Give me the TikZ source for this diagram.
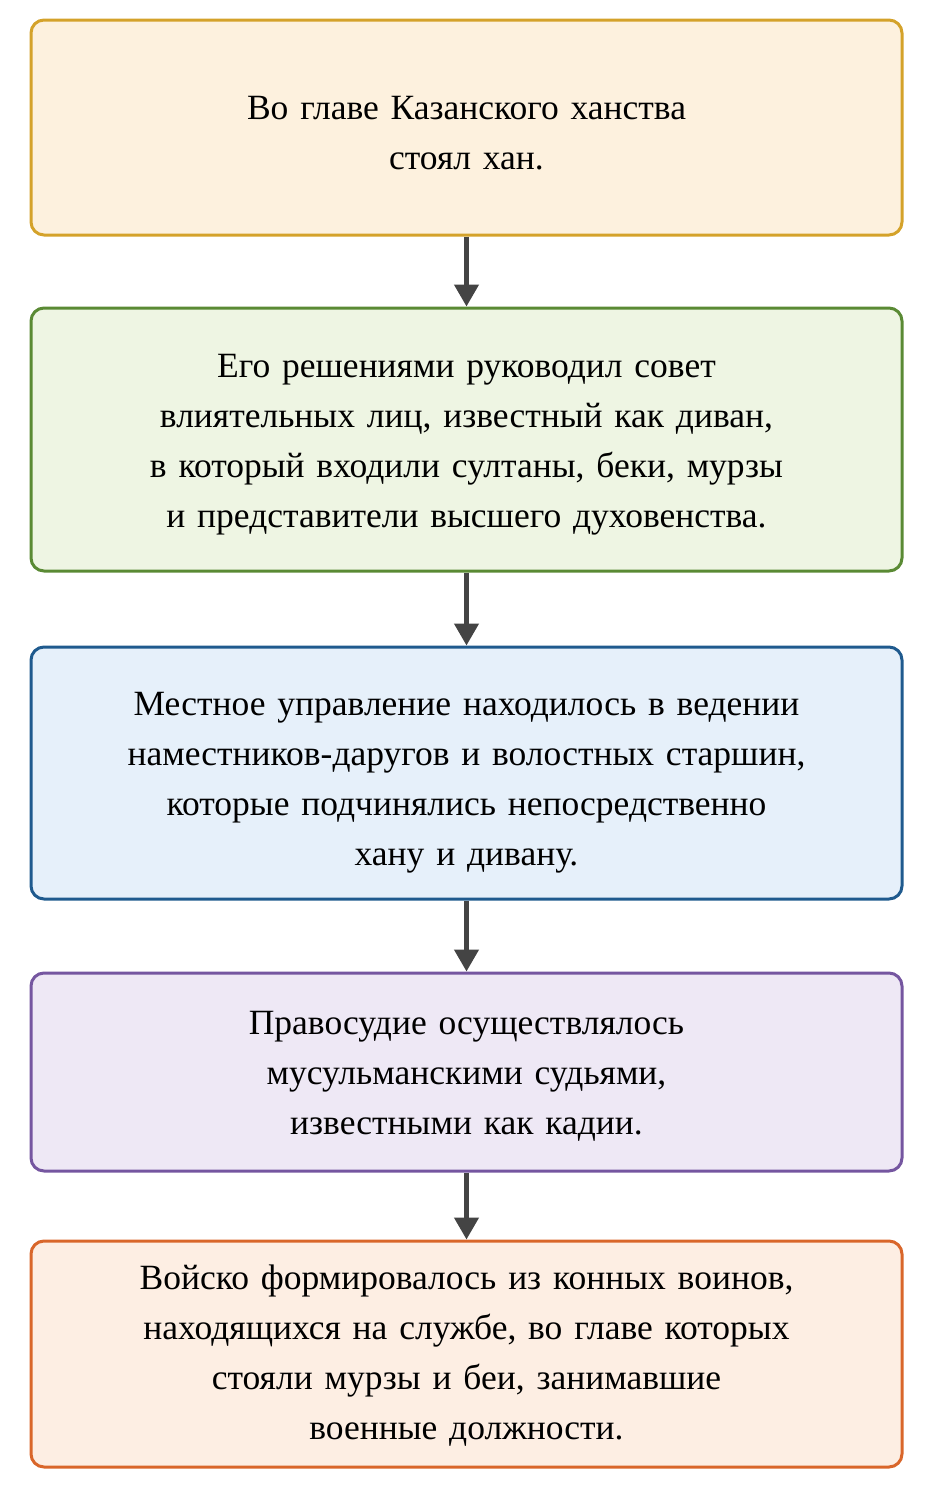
\documentclass[tikz,border=0pt]{standalone}
\usepackage{fontspec}
\setmainfont{Liberation Serif}
\usetikzlibrary{arrows.meta}
\definecolor{f1}{HTML}{FDF1DE}\definecolor{d1}{HTML}{D4A22A}
\definecolor{f2}{HTML}{EEF5E3}\definecolor{d2}{HTML}{5A8A34}
\definecolor{f3}{HTML}{E6F0FA}\definecolor{d3}{HTML}{1F5A8E}
\definecolor{f4}{HTML}{EEE8F5}\definecolor{d4}{HTML}{7556A0}
\definecolor{f5}{HTML}{FDEEE3}\definecolor{d5}{HTML}{D9662A}
\definecolor{ar}{HTML}{444444}
\begin{document}
\begin{tikzpicture}[x=1pt,y=-1pt,
 box/.style={rounded corners=13pt,line width=3pt,minimum width=871pt,inner sep=0pt},
 txt/.style={text width=840pt,align=center,font=\fontsize{35.5}{50}\selectfont,inner sep=0pt},
 arr/.style={draw=ar,line width=4.5pt,-{Triangle[length=22pt,width=24pt]}}]
\useasboundingbox (0,0) rectangle (932,1492);
\node[box,draw=d1,fill=f1,minimum height=215pt] (a) at (466.5,127.5) {};
\node[txt] (ta) at (466.5,133) {Во главе Казанского ханства\\стоял хан.};
\node[box,draw=d2,fill=f2,minimum height=263pt] (b) at (466.5,439.5) {};
\node[txt] (tb) at (466.5,445) {Его решениями руководил совет\\влиятельных лиц, известный как диван,\\в который входили султаны, беки, мурзы\\и представители высшего духовенства.};
\node[box,draw=d3,fill=f3,minimum height=252pt] (c) at (466.5,773) {};
\node[txt] (tc) at (466.5,783) {Местное управление находилось в ведении\\наместников-даругов и волостных старшин,\\которые подчинялись непосредственно\\хану и дивану.};
\node[box,draw=d4,fill=f4,minimum height=198pt] (d) at (466.5,1072) {};
\node[txt] (td) at (466.5,1076) {Правосудие осуществлялось\\мусульманскими судьями,\\известными как кадии.};
\node[box,draw=d5,fill=f5,minimum height=226pt] (e) at (466.5,1354) {};
\node[txt] (te) at (466.5,1356) {Войско формировалось из конных воинов,\\находящихся на службе, во главе которых\\стояли мурзы и беи, занимавшие\\военные должности.};
\draw[arr] (a.south) -- (b.north);
\draw[arr] (b.south) -- (c.north);
\draw[arr] (c.south) -- (d.north);
\draw[arr] (d.south) -- (e.north);
\end{tikzpicture}
\end{document}
